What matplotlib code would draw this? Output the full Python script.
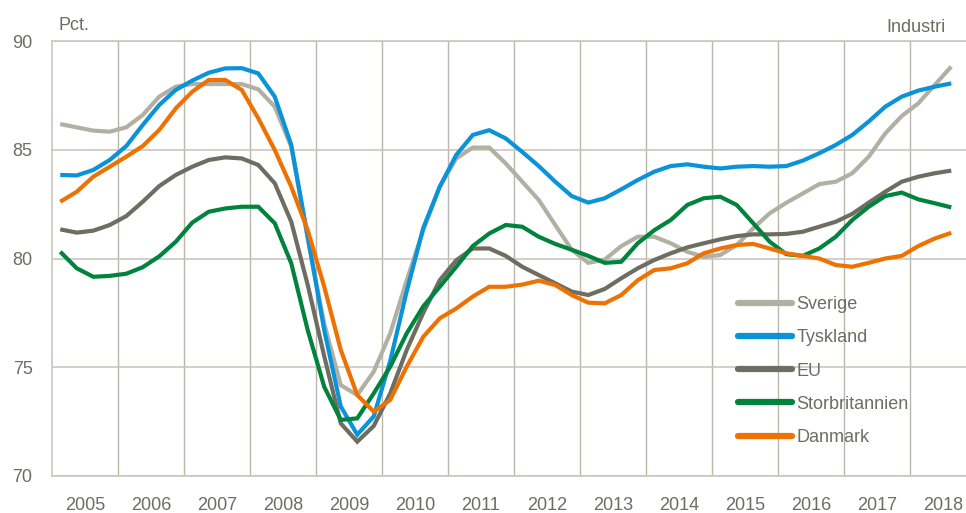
import matplotlib
matplotlib.use("Agg")
import matplotlib.pyplot as plt
import numpy as np

plt.rcParams['font.family'] = ['Liberation Sans', 'DejaVu Sans']

years = list(range(2005, 2019))
year_labels = [str(y) for y in years]
n_points = 55  # 2005Q1 .. 2018Q3

sverige = [86.18, 86.03, 85.88, 85.83,
           86.03, 86.6, 87.44, 87.9,
           88.02, 88.02, 88.02, 88.02,
           87.78, 86.98, 85.14, 80.9,
           77.0, 74.18, 73.72, 74.8,
           76.56, 79.0, 81.3, 83.3,
           84.6, 85.1, 85.1, 84.37,
           83.53, 82.69, 81.54, 80.4,
           79.8, 79.95, 80.57, 81.0,
           81.0, 80.7, 80.31, 80.08,
           80.16, 80.62, 81.39, 82.08,
           82.56, 82.99, 83.42, 83.53,
           83.92, 84.68, 85.75, 86.55,
           87.13, 87.98, 88.82]

tyskland = [83.84, 83.82, 84.07, 84.53,
            85.17, 86.14, 87.06, 87.75,
            88.18, 88.54, 88.74, 88.75,
            88.51, 87.44, 85.22, 81.0,
            76.7, 73.2, 71.9, 72.74,
            75.3, 78.5, 81.4, 83.3,
            84.76, 85.68, 85.9, 85.52,
            84.9, 84.25, 83.53, 82.87,
            82.57, 82.77, 83.18, 83.61,
            83.99, 84.25, 84.33, 84.22,
            84.14, 84.22, 84.25, 84.22,
            84.25, 84.5, 84.84, 85.22,
            85.68, 86.3, 86.98, 87.44,
            87.72, 87.9, 88.05]

eu = [81.34, 81.19, 81.28, 81.54,
      81.95, 82.61, 83.33, 83.84,
      84.22, 84.53, 84.65, 84.6,
      84.3, 83.46, 81.69, 78.78,
      75.5, 72.42, 71.58, 72.3,
      73.8, 75.8, 77.5, 79.0,
      79.92, 80.46, 80.46, 80.12,
      79.62, 79.24, 78.86, 78.48,
      78.32, 78.6, 79.09, 79.55,
      79.93, 80.24, 80.51, 80.7,
      80.88, 81.03, 81.11, 81.11,
      81.13, 81.23, 81.46, 81.69,
      82.05, 82.57, 83.07, 83.53,
      83.76, 83.92, 84.04]

storbritannien = [80.31, 79.55, 79.16, 79.2,
                  79.3, 79.6, 80.1, 80.77,
                  81.65, 82.15, 82.3, 82.38,
                  82.38, 81.62, 79.78, 76.7,
                  74.1, 72.58, 72.65, 73.8,
                  75.03, 76.56, 77.8, 78.7,
                  79.62, 80.57, 81.15, 81.54,
                  81.46, 81.0, 80.67, 80.4,
                  80.12, 79.8, 79.85, 80.7,
                  81.3, 81.77, 82.46, 82.77,
                  82.84, 82.46, 81.62, 80.77,
                  80.2, 80.12, 80.46, 81.0,
                  81.77, 82.38, 82.87, 83.03,
                  82.72, 82.54, 82.35]

danmark = [82.61, 83.07, 83.76, 84.22,
           84.68, 85.17, 85.91, 86.9,
           87.67, 88.21, 88.21, 87.75,
           86.45, 84.99, 83.3, 81.3,
           78.7, 75.8, 73.72, 72.96,
           73.5, 75.03, 76.4, 77.25,
           77.7, 78.25, 78.7, 78.7,
           78.8, 78.98, 78.78, 78.32,
           77.97, 77.94, 78.32, 79.0,
           79.47, 79.55, 79.78, 80.24,
           80.46, 80.62, 80.67, 80.46,
           80.24, 80.12, 80.0, 79.7,
           79.62, 79.8, 80.0, 80.12,
           80.57, 80.92, 81.18]

series_names = ['Sverige', 'Tyskland', 'EU', 'Storbritannien', 'Danmark']
series_values = [sverige, tyskland, eu, storbritannien, danmark]
colors = ['#B1B0A3', '#0A93D8', '#6E6D62', '#00843D', '#EE7203']

yticks = [70, 75, 80, 85, 90]

t = 2005 + (np.arange(n_points) + 0.5) / 4.0

text_color = '#6E6D62'
grid_color = '#C9C7BD'
fs = 13

fig = plt.figure(figsize=(9.66, 5.13), dpi=100)
W, H = 966, 513
ax = fig.add_axes([52 / W, (H - 476) / H, (W - 52) / W, 435 / H])

for name, vals, c in zip(series_names, series_values, colors):
    ax.plot(t, vals, color=c, lw=3.0, label=name, solid_joinstyle='miter',
            solid_capstyle='butt')

ax.set_xlim(2005, 2005 + (W - 52) / 66.0)
ax.set_ylim(70, 90)
ax.set_yticks(yticks)
ax.set_yticklabels([str(v) for v in yticks])
ax.set_xticks([y + 0.5 for y in years])
ax.set_xticklabels(year_labels)
ax.set_xticks(years[1:], minor=True)
ax.tick_params(axis='both', which='both', length=0, labelsize=fs,
               labelcolor=text_color)
ax.tick_params(axis='y', pad=14)
ax.tick_params(axis='x', pad=15)
ax.grid(axis='y', which='major', color=grid_color, lw=1.2)
ax.grid(axis='x', which='minor', color='#B9B7AC', lw=1.0)
ax.grid(axis='x', which='major', visible=False)
ax.spines['right'].set_visible(False)
for s in ['left', 'bottom', 'top']:
    ax.spines[s].set_color(grid_color)
    ax.spines[s].set_linewidth(1.2)
ax.set_axisbelow(True)

fig.text(58 / W, 1 - 30 / H, 'Pct.', color=text_color, fontsize=fs,
         ha='left', va='baseline')
fig.text(946 / W, 1 - 32 / H, 'Industri', color=text_color, fontsize=fs,
         ha='right', va='baseline')

leg = ax.legend(loc='upper left', bbox_to_anchor=(738 / W, 1 - 296 / H),
                bbox_transform=fig.transFigure, frameon=False,
                fontsize=fs, handlelength=3.0, handletextpad=0.25,
                labelspacing=0.9, borderpad=0, borderaxespad=0)
for txt in leg.get_texts():
    txt.set_color(text_color)
for line in leg.get_lines():
    line.set_linewidth(4.5)
    line.set_solid_capstyle('round')

fig.savefig('out.png', dpi=100)
